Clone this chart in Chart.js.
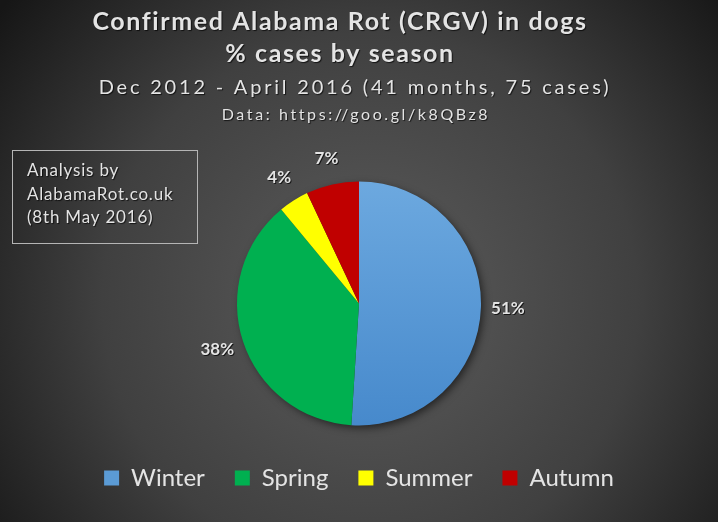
<!DOCTYPE html>
<html>
<head>
<meta charset="utf-8">
<script src="https://cdn.jsdelivr.net/npm/chart.js@4"></script>
<style>
  body { margin: 0; background: #2a2a2a; }
  canvas { display: block; }
</style>
</head>
<body>
<canvas id="seasonPie" width="718" height="522"></canvas>
<script>
const seasons = ["Winter", "Spring", "Summer", "Autumn"];
const percentCases = [51, 38, 4, 7];
const sliceColors = ["#5b9bd5", "#00b050", "#ffff00", "#c00000"];
const titleLines = ["Confirmed Alabama Rot (CRGV) in dogs", "% cases by season"];
const subtitleLine = "Dec 2012 - April 2016 (41 months, 75 cases)";
const sourceLine = "Data: https://goo.gl/k8QBz8";
const noteLines = ["Analysis by", "AlabamaRot.co.uk", "(8th May 2016)"];

const textColor = "#e4e4e4";

// background + header text + note box
const backdrop = {
  id: "backdrop",
  beforeDraw(chart) {
    const ctx = chart.ctx;
    const w = chart.width, h = chart.height;
    ctx.save();
    const g = ctx.createRadialGradient(370, 300, 20, 370, 300, 470);
    g.addColorStop(0, "#5a5a5a");
    g.addColorStop(0.55, "#404040");
    g.addColorStop(1, "#161616");
    ctx.fillStyle = g;
    ctx.fillRect(0, 0, w, h);

    ctx.textAlign = "center";
    ctx.textBaseline = "middle";
    ctx.shadowColor = "rgba(0,0,0,0.7)";
    ctx.shadowOffsetX = 1;
    ctx.shadowOffsetY = 1;
    ctx.shadowBlur = 1;
    ctx.fillStyle = textColor;

    ctx.font = "bold 25px Lato";
    ctx.letterSpacing = "1.6px";
    ctx.fillText(titleLines[0], 340, 22);
    ctx.fillText(titleLines[1], 340, 54);

    ctx.font = "20px Lato";
    ctx.letterSpacing = "2.8px";
    ctx.fillText(subtitleLine, 355, 88);

    ctx.font = "16px Lato";
    ctx.letterSpacing = "2.6px";
    ctx.fillText(sourceLine, 356, 115);

    ctx.letterSpacing = "0px";
    ctx.shadowColor = "transparent";
    ctx.strokeStyle = "#b5b5b5";
    ctx.lineWidth = 1;
    ctx.strokeRect(12.5, 150.5, 185, 93);

    ctx.shadowColor = "rgba(0,0,0,0.7)";
    ctx.textAlign = "left";
    ctx.font = "17px Lato";
    ctx.letterSpacing = "0.8px";
    noteLines.forEach((t, i) => ctx.fillText(t, 27, 171 + i * 23.5));
    ctx.restore();
  },
  beforeDatasetsDraw(chart) {
    // soft shadow under the pie
    const arc = chart.getDatasetMeta(0).data[0];
    if (!arc) return;
    const { x, y, outerRadius } = arc.getProps(["x", "y", "outerRadius"], true);
    const ctx = chart.ctx;
    ctx.save();
    ctx.shadowColor = "rgba(0,0,0,0.6)";
    ctx.shadowBlur = 8;
    ctx.shadowOffsetX = 3;
    ctx.shadowOffsetY = 3;
    ctx.fillStyle = "#333";
    ctx.beginPath();
    ctx.arc(x, y, outerRadius - 1, 0, Math.PI * 2);
    ctx.fill();
    ctx.restore();
  },
  afterDatasetsDraw(chart) {
    const ctx = chart.ctx;
    const meta = chart.getDatasetMeta(0);
    ctx.save();
    ctx.font = "bold 17px Lato";
    ctx.fillStyle = textColor;
    ctx.textAlign = "center";
    ctx.textBaseline = "middle";
    ctx.shadowColor = "rgba(0,0,0,0.7)";
    ctx.shadowOffsetX = 1;
    ctx.shadowOffsetY = 1;
    meta.data.forEach((arc, i) => {
      const p = arc.getProps(["x", "y", "startAngle", "endAngle", "outerRadius"], true);
      const mid = (p.startAngle + p.endAngle) / 2;
      const r = p.outerRadius + 27;
      ctx.fillText(percentCases[i] + "%", p.x + Math.cos(mid) * r, p.y + Math.sin(mid) * r);
    });
    ctx.restore();
  }
};

function winterFill(context) {
  const area = context.chart.chartArea;
  if (!area) return sliceColors[0];
  const g = context.chart.ctx.createLinearGradient(0, area.top, 0, area.bottom);
  g.addColorStop(0, "#6eaae0");
  g.addColorStop(1, "#4588cb");
  return g;
}

new Chart("seasonPie", {
  type: "pie",
  data: {
    labels: seasons,
    datasets: [
      {
        data: percentCases,
        backgroundColor: (c) => (c.dataIndex === 0 ? winterFill(c) : sliceColors[c.dataIndex]),
        borderWidth: 0,
        radius: 122,
      },
    ],
  },
  options: {
    responsive: false,
    animation: false,
    layout: { padding: { top: 171, bottom: 22, left: 0, right: 0 } },
    plugins: {
      tooltip: { enabled: false },
      legend: {
        position: "bottom",
        labels: {
          color: textColor,
          font: { family: "Lato", size: 24 },
          boxWidth: 15,
          boxHeight: 15,
          padding: 30,
          generateLabels(chart) {
            return seasons.map((s, i) => ({
              text: s,
              fillStyle: sliceColors[i],
              strokeStyle: sliceColors[i],
              lineWidth: 0,
              fontColor: textColor,
              index: i,
            }));
          },
        },
      },
    },
  },
  plugins: [backdrop],
});
</script>
</body>
</html>
